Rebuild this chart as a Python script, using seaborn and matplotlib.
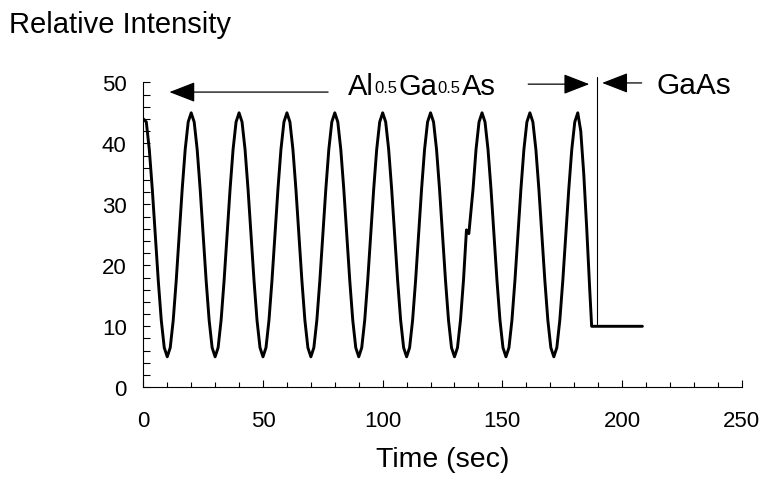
import seaborn as sns
import matplotlib.pyplot as plt
from matplotlib.ticker import MultipleLocator
import pandas as pd

# RHEED intensity oscillations, AlGaAs growth then GaAs
# values (1.25 s sampling)
time_s = [
    0, 1.25, 2.5, 3.75, 5, 6.25, 7.5, 8.75, 10, 11.25, 12.5, 13.75, 15, 16.25, 17.5, 18.75,
    20, 21.25, 22.5, 23.75, 25, 26.25, 27.5, 28.75, 30, 31.25, 32.5, 33.75, 35, 36.25, 37.5, 38.75,
    40, 41.25, 42.5, 43.75, 45, 46.25, 47.5, 48.75, 50, 51.25, 52.5, 53.75, 55, 56.25, 57.5, 58.75,
    60, 61.25, 62.5, 63.75, 65, 66.25, 67.5, 68.75, 70, 71.25, 72.5, 73.75, 75, 76.25, 77.5, 78.75,
    80, 81.25, 82.5, 83.75, 85, 86.25, 87.5, 88.75, 90, 91.25, 92.5, 93.75, 95, 96.25, 97.5, 98.75,
    100, 101.25, 102.5, 103.75, 105, 106.25, 107.5, 108.75, 110, 111.25, 112.5, 113.75, 115, 116.25, 117.5, 118.75,
    120, 121.25, 122.5, 123.75, 125, 126.25, 127.5, 128.75, 130, 131.25, 132.5, 133.75, 135,
    136, 137.75, 139, 140.25,
    141.5, 142.75, 144, 145.25, 146.5, 147.75, 149, 150.25, 151.5, 152.75, 154, 155.25, 156.5, 157.75, 159, 160.25,
    161.5, 162.75, 164, 165.25, 166.5, 167.75, 169, 170.25, 171.5, 172.75, 174, 175.25, 176.5, 177.75, 179, 180.25,
    181.5, 182.75, 184, 185.25, 186.5, 187.3, 208.5,
]
intensity = [
    44, 43.5, 39, 32.5, 25, 17.5, 11, 6.5, 5, 6.5, 11, 17.5, 25, 32.5, 39, 43.5,
    45, 43.5, 39, 32.5, 25, 17.5, 11, 6.5, 5, 6.5, 11, 17.5, 25, 32.5, 39, 43.5,
    45, 43.5, 39, 32.5, 25, 17.5, 11, 6.5, 5, 6.5, 11, 17.5, 25, 32.5, 39, 43.5,
    45, 43.5, 39, 32.5, 25, 17.5, 11, 6.5, 5, 6.5, 11, 17.5, 25, 32.5, 39, 43.5,
    45, 43.5, 39, 32.5, 25, 17.5, 11, 6.5, 5, 6.5, 11, 17.5, 25, 32.5, 39, 43.5,
    45, 43.5, 39, 32.5, 25, 17.5, 11, 6.5, 5, 6.5, 11, 17.5, 25, 32.5, 39, 43.5,
    45, 43.5, 39, 32.5, 25, 17.5, 11, 6.5, 5, 6.5, 11, 17.5, 25.8,
    25.2, 32.5, 39, 43.5,
    45, 43.5, 39, 32.5, 25, 17.5, 11, 6.5, 5, 6.5, 11, 17.5, 25, 32.5, 39, 43.5,
    45, 43.5, 39, 32.5, 25, 17.5, 11, 6.5, 5, 6.5, 11, 17.5, 25, 32.5, 39, 43.5,
    45, 42, 35, 26, 16, 10, 10,
]

df = pd.DataFrame({"time": time_s, "intensity": intensity})

sns.set_style("ticks")
plt.rcParams["font.family"] = ["Liberation Sans", "DejaVu Sans"]
plt.rcParams["text.color"] = "black"
plt.rcParams["xtick.color"] = "black"
plt.rcParams["ytick.color"] = "black"

fig = plt.figure(figsize=(7.68, 4.85), dpi=100)
ax = fig.add_axes([0.1866, 0.1994, 0.7792, 0.6288])

sns.lineplot(data=df, x="time", y="intensity", sort=False, estimator=None,
             color="black", linewidth=2.1, ax=ax)

ax.set_xlim(0, 250)
ax.set_ylim(0, 50)
ax.xaxis.set_major_locator(MultipleLocator(50))
ax.xaxis.set_minor_locator(MultipleLocator(10))
ax.yaxis.set_major_locator(MultipleLocator(10))
ax.yaxis.set_minor_locator(MultipleLocator(2))
ax.tick_params(axis="x", which="major", direction="in", length=5, width=0.8,
               labelsize=16, pad=16.5)
ax.tick_params(axis="x", which="minor", direction="in", length=3.5, width=0.8)
ax.tick_params(axis="y", which="both", direction="in", length=5, width=0.8,
               labelsize=16, pad=12)
sns.despine(ax=ax)
for s in ("left", "bottom"):
    ax.spines[s].set_linewidth(0.8)
    ax.spines[s].set_color("black")

ax.set_xlabel("Time (sec)", fontsize=20.5, labelpad=11, color="black")
ax.set_ylabel("")
fig.text(0.0122, 1 - 33.3 / 485, "Relative Intensity", fontsize=21,
         va="baseline")

# annotations: layer boundaries
arrow = dict(arrowstyle="-|>,head_length=0.9,head_width=0.35", color="black",
             lw=0.9, mutation_scale=18, shrinkA=0, shrinkB=0)
ax.annotate("", xy=(10.9, 48.4), xytext=(77.2, 48.4), arrowprops=arrow,
            annotation_clip=False)
ax.annotate("", xy=(186.3, 49.7), xytext=(160.8, 49.7), arrowprops=arrow,
            annotation_clip=False)
ax.annotate("", xy=(191.7, 49.9), xytext=(208.2, 49.9), arrowprops=arrow,
            annotation_clip=False)
ax.plot([189.4, 189.4], [10.4, 50.8], color="black", lw=0.8, clip_on=False)

# Al0.5Ga0.5As label built from pieces so the subscripts sit near the baseline
t_al = ax.text(85.5, 48.1, "Al", fontsize=21, ha="left", va="baseline")
s1 = ax.annotate("0.5", xy=(1, 0), xycoords=t_al, xytext=(0.5, 3.2),
                 textcoords="offset points", fontsize=12, va="bottom")
t_ga = ax.annotate("Ga", xy=(1, 0), xycoords=s1, xytext=(0.5, -3.2),
                   textcoords="offset points", fontsize=21, va="bottom")
s2 = ax.annotate("0.5", xy=(1, 0), xycoords=t_ga, xytext=(0.5, 3.2),
                 textcoords="offset points", fontsize=12, va="bottom")
ax.annotate("As", xy=(1, 0), xycoords=s2, xytext=(0.5, -3.2),
            textcoords="offset points", fontsize=21, va="bottom")

ax.text(214.5, 48.2, "GaAs", fontsize=21.5, ha="left", va="baseline")

fig.savefig("out.png", dpi=100)
